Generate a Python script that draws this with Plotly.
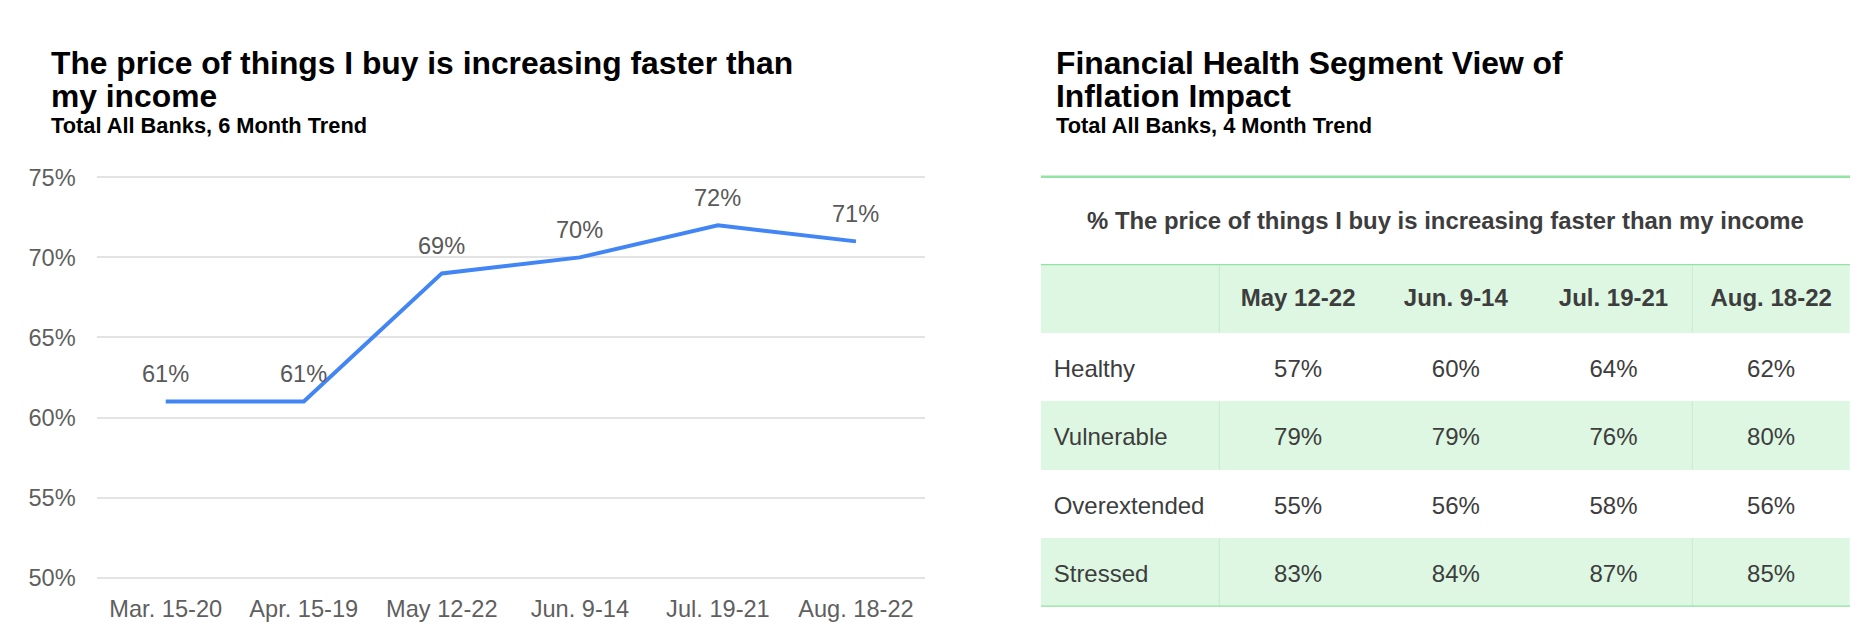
import plotly.graph_objects as go

# ---------------- data ----------------
periods = ["Mar. 15-20", "Apr. 15-19", "May 12-22", "Jun. 9-14", "Jul. 19-21", "Aug. 18-22"]
price_pct = [61, 61, 69, 70, 72, 71]
y_ticks = [50, 55, 60, 65, 70, 75]

table_periods = ["May 12-22", "Jun. 9-14", "Jul. 19-21", "Aug. 18-22"]
segments = ["Healthy", "Vulnerable", "Overextended", "Stressed"]
healthy = [57, 60, 64, 62]
vulnerable = [79, 79, 76, 80]
overextended = [55, 56, 58, 56]
stressed = [83, 84, 87, 85]
segment_values = [healthy, vulnerable, overextended, stressed]

left_title = ["The price of things I buy is increasing faster than", "my income"]
left_sub = "Total All Banks, 6 Month Trend"
right_title = ["Financial Health Segment View of", "Inflation Impact"]
right_sub = "Total All Banks, 4 Month Trend"
table_title = "% The price of things I buy is increasing faster than my income"

# ---------------- layout helpers ----------------
W, H = 1874, 632
FONT = "Arial, 'Liberation Sans', sans-serif"


def px(x):
    return x / W


def py(y):
    return 1 - y / H


BLUE = "#4285f4"
AX_GREY = "#5f5f5f"
TBL_TXT = "#3d3d3d"
MINT = "#ddf7e2"
GREEN_LINE = "#93e3a3"
AX_SIZE = 23.6
TBL_SIZE = 24

fig = go.Figure()

# ---------------- line chart ----------------
fig.add_trace(go.Scatter(
    x=periods, y=price_pct, mode="lines",
    line=dict(color=BLUE, width=4),
    hoverinfo="skip", xaxis="x", yaxis="y",
))
for p, v in zip(periods, price_pct):
    fig.add_annotation(
        x=p, y=v, xref="x", yref="y", text=f"{v}%", showarrow=False,
        yanchor="bottom", yshift=12.5, font=dict(family=FONT, size=AX_SIZE, color="#595959"),
    )

# ---------------- table (heatmap cells + text) ----------------
n_cols = 1 + len(table_periods)
label_w = 178.6
total_w = 809.3
col_w = (total_w - label_w) / len(table_periods)
x_edges = [0, label_w] + [label_w + col_w * (i + 1) for i in range(len(table_periods))]
x_centers = [(x_edges[i] + x_edges[i + 1]) / 2 for i in range(n_cols)]
n_rows = 1 + len(segments)
y_edges = list(range(n_rows + 1))
text_drop = 0.055  # visual centring of cap-height text inside a row

shade = [[1] * n_cols] + [[(i % 2)] * n_cols for i in range(len(segments))]
fig.add_trace(go.Heatmap(
    x=x_edges, y=y_edges, z=shade, zmin=0, zmax=1,
    colorscale=[[0, "#ffffff"], [1, MINT]], showscale=False,
    hoverinfo="skip", xaxis="x2", yaxis="y2",
))

# header text
fig.add_trace(go.Scatter(
    x=x_centers[1:], y=[0.5 + text_drop / 2] * len(table_periods), mode="text",
    text=[f"<b>{p}</b>" for p in table_periods], textposition="middle center",
    textfont=dict(family=FONT, size=TBL_SIZE, color=TBL_TXT),
    hoverinfo="skip", xaxis="x2", yaxis="y2",
))
# body values
bx, by, bt = [], [], []
for r, vals in enumerate(segment_values):
    for c, v in enumerate(vals):
        bx.append(x_centers[c + 1])
        by.append(r + 1.5 + text_drop)
        bt.append(f"{v}%")
fig.add_trace(go.Scatter(
    x=bx, y=by, mode="text", text=bt, textposition="middle center",
    textfont=dict(family=FONT, size=TBL_SIZE, color=TBL_TXT),
    hoverinfo="skip", xaxis="x2", yaxis="y2",
))
# row labels
fig.add_trace(go.Scatter(
    x=[13] * len(segments), y=[r + 1.5 + text_drop for r in range(len(segments))], mode="text",
    text=segments, textposition="middle right",
    textfont=dict(family=FONT, size=TBL_SIZE, color=TBL_TXT),
    hoverinfo="skip", xaxis="x2", yaxis="y2",
))

shapes = []
# faint vertical separators in shaded rows
for r in range(n_rows):
    if shade[r][0] == 1:
        for xe in (x_edges[1], x_edges[4]):
            shapes.append(dict(type="line", xref="x2", yref="y2", x0=xe, x1=xe,
                               y0=r, y1=r + 1, line=dict(color="#c6ecd0", width=1)))
# green rules
shapes.append(dict(type="line", xref="x2", yref="paper", x0=0, x1=total_w,
                   y0=py(176.7), y1=py(176.7), line=dict(color=GREEN_LINE, width=2.5)))
for yv in (0, n_rows):
    shapes.append(dict(type="line", xref="x2", yref="y2", x0=0, x1=total_w,
                       y0=yv, y1=yv, line=dict(color=GREEN_LINE, width=2.5)))

# ---------------- titles ----------------
anns = []


def title_line(text, x, yb, size, color="#000000", xanchor="left"):
    anns.append(dict(text=f"<b>{text}</b>", x=px(x), y=py(yb - 0.35 * size), xref="paper", yref="paper",
                     xanchor=xanchor, yanchor="middle", showarrow=False, borderpad=0,
                     font=dict(family=FONT, size=size, color=color)))


title_line(left_title[0], 49.5, 74.5, 31.8)
title_line(left_title[1], 49.5, 107, 31.8)
title_line(left_sub, 49.5, 133, 21.8)
title_line(right_title[0], 1054.7, 74.5, 31.8)
title_line(right_title[1], 1054.7, 107, 31.8)
title_line(right_sub, 1054.7, 133, 21.8)
title_line(table_title, 1445, 228.5, 23.9, color=TBL_TXT, xanchor="center")

for a in anns:
    fig.add_annotation(**a)

# y range padded slightly so the 50% / 75% gridlines are drawn
pad = 0.15
unit_px = (577.7 - 177.3) / (y_ticks[-1] - y_ticks[0])

fig.update_layout(
    width=W, height=H,
    margin=dict(l=0, r=0, t=0, b=0, pad=0, autoexpand=False),
    paper_bgcolor="white", plot_bgcolor="white",
    showlegend=False,
    shapes=shapes,
    xaxis=dict(domain=[px(96.7), px(925)], type="category", range=[-0.5, 5.5],
               showgrid=False, zeroline=False, showline=False, ticks="", automargin=False,
               tickfont=dict(family=FONT, size=AX_SIZE, color=AX_GREY), ticklabelstandoff=12,
               fixedrange=True, anchor="y"),
    yaxis=dict(domain=[py(577.7 + pad * unit_px), py(177.3 - pad * unit_px)],
               range=[y_ticks[0] - pad, y_ticks[-1] + pad],
               tickmode="array", tickvals=y_ticks, ticktext=[f"{t}%" for t in y_ticks],
               showgrid=True, gridcolor="#e3e3e3", gridwidth=2, zeroline=False, showline=False,
               ticks="", automargin=False,
               tickfont=dict(family=FONT, size=AX_SIZE, color=AX_GREY), ticklabelstandoff=20,
               fixedrange=True, anchor="x"),
    xaxis2=dict(domain=[px(1040.7), px(1850)], range=[0, total_w], visible=False,
                automargin=False, fixedrange=True, anchor="y2"),
    yaxis2=dict(domain=[py(606.7), py(264)], range=[n_rows, 0], visible=False,
                automargin=False, fixedrange=True, anchor="x2"),
)

fig.write_html("out.html")
